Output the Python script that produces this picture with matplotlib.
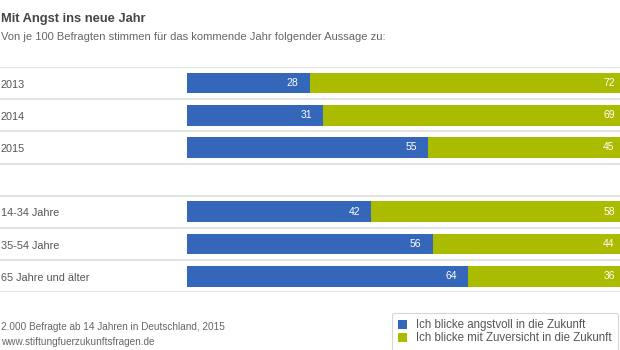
import matplotlib
matplotlib.use("Agg")
import matplotlib.pyplot as plt
from matplotlib.patches import Patch

labels_jahr = ["2013", "2014", "2015"]
angst_jahr = [28, 31, 55]
zuversicht_jahr = [72, 69, 45]

labels_alter = ["14-34 Jahre", "35-54 Jahre", "65 Jahre und älter"]
angst_alter = [42, 56, 64]
zuversicht_alter = [58, 44, 36]

legende = ["Ich blicke angstvoll in die Zukunft", "Ich blicke mit Zuversicht in die Zukunft"]

blau = "#3466ba"
gruen = "#aabb00"
grau = "#555555"

plt.rcParams['font.family'] = ['Liberation Sans', 'DejaVu Sans']

labels = labels_jahr + labels_alter
angst = angst_jahr + angst_alter
zuversicht = zuversicht_jahr + zuversicht_alter
pos = list(range(len(labels_jahr))) + [len(labels_jahr) + 1 + i for i in range(len(labels_alter))]

fig = plt.figure(figsize=(6.2, 3.5), dpi=100)
fig.patch.set_facecolor("white")
ax = fig.add_axes([0, 1 - 292.3 / 350, 1, 225.4 / 350])

for k in range(len(labels) + 2):
    ax.axhline(k - 0.5, color="#e4e4e4", lw=1.5, zorder=0)

ax.barh(pos, angst, height=0.64, color=blau, zorder=2)
ax.barh(pos, zuversicht, left=angst, height=0.64, color=gruen, zorder=2)

for p, a, z, l in zip(pos, angst, zuversicht, labels):
    ax.text(a - 2.5, p, str(a), ha="right", va="center", color="white", fontsize=7.5, zorder=3)
    ax.text(a + z - 2.5, p, str(z), ha="right", va="center", color="white", fontsize=7.5, zorder=3)
    # Beschriftung links, im Original knapp am Rand
    ax.text(0.001, p + 0.05, l, transform=ax.get_yaxis_transform(), ha="left", va="center",
            color=grau, fontsize=7.8)

ax.set_xlim(-186.7 / 4.39, (620 - 186.7) / 4.39)
ax.set_ylim(len(labels) + 0.5, -0.5)
ax.axis("off")

fig.text(0.001, 1 - 22.3 / 350, "Mit Angst ins neue Jahr", fontsize=9.3, fontweight="bold",
         color="#444444", ha="left", va="baseline")
fig.text(0.001, 1 - 39.5 / 350, "Von je 100 Befragten stimmen für das kommende Jahr folgender Aussage zu:",
         fontsize=8, color="#666666", ha="left", va="baseline")

fig.text(0.001, 1 - 330.5 / 350, "2.000 Befragte ab 14 Jahren in Deutschland, 2015",
         fontsize=7.2, color="#666666", ha="left", va="baseline")
fig.text(0.001, 1 - 345 / 350, "www.stiftungfuerzukunftsfragen.de",
         fontsize=7.2, color="#666666", ha="left", va="baseline")

handles = [Patch(facecolor=blau), Patch(facecolor=gruen)]
leg = fig.legend(handles, legende, loc="upper left", bbox_to_anchor=(392 / 620, 1 - 313 / 350),
                 fontsize=8.3, frameon=True, fancybox=True, borderaxespad=0, borderpad=0.55,
                 handlelength=0.75, handleheight=0.8, handletextpad=0.75, labelspacing=0.1,
                 labelcolor="#555555")
leg.get_frame().set_edgecolor("#cccccc")
leg.get_frame().set_linewidth(0.8)

fig.savefig("out.png", dpi=100, facecolor="white")
